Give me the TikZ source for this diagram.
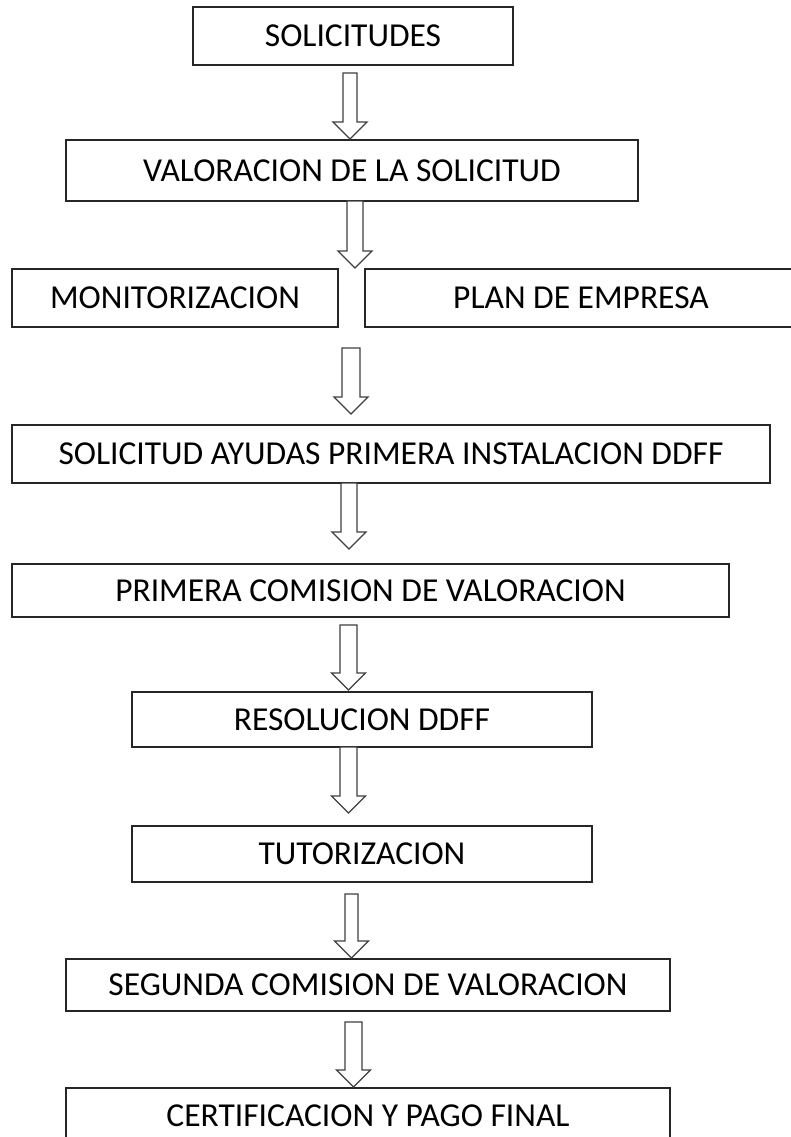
\documentclass[tikz,border=0pt]{standalone}
\usepackage{fontspec}
\setmainfont{Carlito}
\tikzset{
  box/.style={draw=black!85, line width=1.4pt, rectangle, inner sep=0pt,
    font=\fontsize{33.5}{40}\selectfont},
  barrow/.style={draw=black!75, line width=1.3pt, fill=white, line join=miter}
}
% #1 centre x, #2 top y, #3 tip y, #4 half shaft width
\newcommand\blockarrow[4]{%
  \draw[barrow] (#1-#4,#2) -- (#1+#4,#2) -- (#1+#4,#3-17) -- (#1+17,#3-17)
    -- (#1,#3) -- (#1-17,#3-17) -- (#1-#4,#3-17) -- cycle;}
\begin{document}
\begin{tikzpicture}[x=1pt,y=-1pt]
\useasboundingbox[fill=white] (0,0) rectangle (790,1137);

\node[box, minimum width=320pt, minimum height=58pt] (b1) at (353,36) {SOLICITUDES};
\node[box, minimum width=572pt, minimum height=61pt] (b2) at (352,170.5) {VALORACION DE LA SOLICITUD};
\node[box, minimum width=326pt, minimum height=58pt] (mon) at (175,298) {MONITORIZACION};
\node[box, minimum width=432pt, minimum height=58pt] (plan) at (581,298) {PLAN DE EMPRESA};
\node[box, minimum width=758pt, minimum height=58pt] (b4) at (391,454) {SOLICITUD AYUDAS PRIMERA INSTALACION DDFF};
\node[box, minimum width=717pt, minimum height=53pt] (b5) at (370.5,590.5) {PRIMERA COMISION DE VALORACION};
\node[box, minimum width=460pt, minimum height=55pt] (b6) at (362,719.5) {RESOLUCION DDFF};
\node[box, minimum width=460pt, minimum height=56pt] (b7) at (362,854) {TUTORIZACION};
\node[box, minimum width=604pt, minimum height=52pt] (b8) at (368,985) {SEGUNDA COMISION DE VALORACION};
\node[box, minimum width=604pt, minimum height=55pt] (b9) at (368,1115.5) {CERTIFICACION Y PAGO FINAL};

\blockarrow{350}{73}{139}{7}
\blockarrow{355}{201}{268}{8}
\blockarrow{351}{348}{414}{9}
\blockarrow{349}{483}{549}{8}
\blockarrow{348.5}{625}{690}{8.5}
\blockarrow{348.5}{747}{813}{8.5}
\blockarrow{351.5}{894}{958}{6.5}
\blockarrow{353.5}{1022}{1087}{8.5}
\end{tikzpicture}
\end{document}
